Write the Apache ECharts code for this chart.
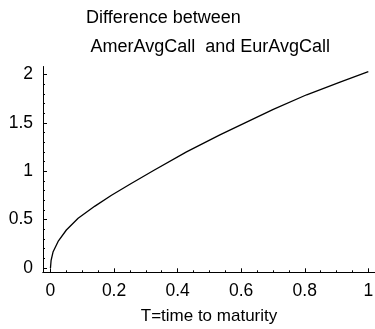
<!DOCTYPE html>
<html>
<head>
<meta charset="utf-8">
<script src="https://cdn.jsdelivr.net/npm/echarts@6/dist/echarts.min.js"></script>
<style>
  html, body { margin: 0; padding: 0; background: #fff; }
  #chart { width: 375px; height: 329px; }
</style>
</head>
<body>
<div id="chart"></div>
<script>
  // T values and the difference curve
  const timeToMaturity = [0, 0.002, 0.008, 0.024, 0.05, 0.087, 0.14, 0.192, 0.25, 0.323, 0.428, 0.533, 0.612, 0.701, 0.806, 0.911, 1.0];
  const difference = [0, 0.08, 0.165, 0.275, 0.393, 0.514, 0.64, 0.752, 0.865, 1.005, 1.2, 1.375, 1.5, 1.64, 1.79, 1.92, 2.03];
  const xMajorTicks = [0, 0.2, 0.4, 0.6, 0.8, 1];
  const xMinorTicks = [0.05, 0.1, 0.15, 0.25, 0.3, 0.35, 0.45, 0.5, 0.55, 0.65, 0.7, 0.75, 0.85, 0.9, 0.95];
  const yMajorTicks = [0, 0.5, 1, 1.5, 2];
  const yMinorTicks = [0.1, 0.2, 0.3, 0.4, 0.6, 0.7, 0.8, 0.9, 1.1, 1.2, 1.3, 1.4, 1.6, 1.7, 1.8, 1.9];

  const font = 'Liberation Sans, Arial, sans-serif';
  const xMin = -0.0235, xMax = 1.021;
  const yMin = -0.044, yMax = 2.08;

  let seriesData = [];
  timeToMaturity.forEach((t, i) => {
    seriesData.push([t, difference[i]]);
  });

  const chart = echarts.init(document.getElementById('chart'));
  chart.setOption({
    animation: false,
    backgroundColor: '#fff',
    title: [{
      text: 'Difference between',
      left: 86, top: 8.5, padding: 0,
      textStyle: { fontFamily: font, fontSize: 18, fontWeight: 'normal', color: '#000', lineHeight: 20 }
    }, {
      text: 'AmerAvgCall  and EurAvgCall',
      left: 90.5, top: 37.5, padding: 0,
      textStyle: { fontFamily: font, fontSize: 18, fontWeight: 'normal', color: '#000', lineHeight: 20 }
    }],
    grid: {
      left: 43, right: 0, top: 66.7, bottom: 56.7,
      outerBoundsMode: 'none'
    },
    xAxis: [{
      type: 'value', min: xMin, max: xMax, position: 'bottom',
      name: 'T=time to maturity', nameLocation: 'middle', nameGap: 24,
      nameTextStyle: { fontFamily: font, fontSize: 17, color: '#000', lineHeight: 20 },
      axisLine: { show: true, onZero: false, lineStyle: { color: '#000', width: 1 } },
      axisTick: { show: true, inside: true, length: 4, customValues: xMajorTicks, lineStyle: { color: '#000' } },
      axisLabel: { customValues: xMajorTicks, margin: 9, fontFamily: font, fontSize: 17.5, color: '#000', lineHeight: 20 },
      splitLine: { show: false }
    }, {
      type: 'value', min: xMin, max: xMax, position: 'bottom',
      axisLine: { show: true, onZero: false, lineStyle: { color: '#000', width: 1 } },
      axisTick: { show: true, inside: true, length: 2, customValues: xMinorTicks, lineStyle: { color: '#000' } },
      axisLabel: { show: false },
      splitLine: { show: false }
    }],
    yAxis: [{
      type: 'value', min: yMin, max: yMax, position: 'left',
      axisLine: { show: true, onZero: false, lineStyle: { color: '#000', width: 1 } },
      axisTick: { show: true, inside: true, length: 4, customValues: yMajorTicks, lineStyle: { color: '#000' } },
      axisLabel: { customValues: yMajorTicks, margin: 10, fontFamily: font, fontSize: 17.5, color: '#000' },
      splitLine: { show: false }
    }, {
      type: 'value', min: yMin, max: yMax, position: 'left',
      axisLine: { show: true, onZero: false, lineStyle: { color: '#000', width: 1 } },
      axisTick: { show: true, inside: true, length: 2, customValues: yMinorTicks, lineStyle: { color: '#000' } },
      axisLabel: { show: false },
      splitLine: { show: false }
    }],
    series: [{
      type: 'line',
      xAxisIndex: 0,
      yAxisIndex: 0,
      data: seriesData,
      smooth: false,
      showSymbol: false,
      lineStyle: { color: '#000', width: 1.3, join: 'round' }
    }]
  });
</script>
</body>
</html>
